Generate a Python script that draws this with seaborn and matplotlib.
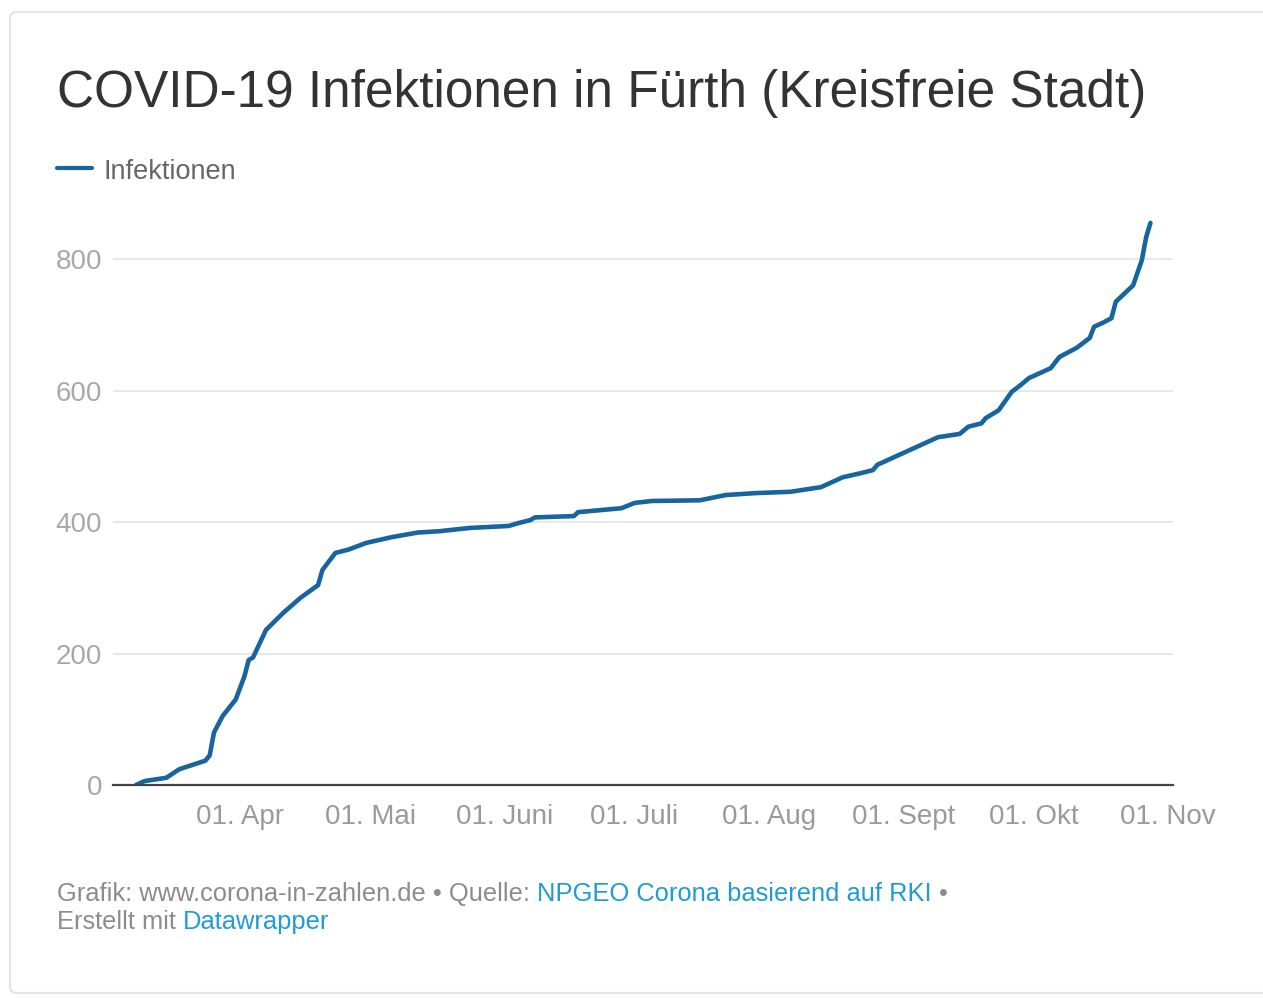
import matplotlib
matplotlib.use('Agg')

import pandas as pd
import numpy as np
import matplotlib.pyplot as plt
import seaborn as sns
from matplotlib.patches import FancyBboxPatch

# cumulative infections
dates = ["2020-03-08", "2020-03-10", "2020-03-15", "2020-03-18", "2020-03-24",
         "2020-03-25", "2020-03-26", "2020-03-28", "2020-03-31", "2020-04-02",
         "2020-04-03", "2020-04-04", "2020-04-07", "2020-04-11", "2020-04-15",
         "2020-04-19", "2020-04-20", "2020-04-23", "2020-04-26", "2020-04-30",
         "2020-05-06", "2020-05-12", "2020-05-17", "2020-05-24", "2020-06-02",
         "2020-06-04", "2020-06-07", "2020-06-08", "2020-06-17", "2020-06-18",
         "2020-06-28", "2020-07-01", "2020-07-05", "2020-07-16", "2020-07-22",
         "2020-07-29", "2020-08-06", "2020-08-13", "2020-08-18", "2020-08-22",
         "2020-08-25", "2020-08-26", "2020-08-31", "2020-09-04", "2020-09-09",
         "2020-09-14", "2020-09-16", "2020-09-19", "2020-09-20", "2020-09-23",
         "2020-09-26", "2020-09-28", "2020-09-30", "2020-10-05", "2020-10-07",
         "2020-10-11", "2020-10-14", "2020-10-15", "2020-10-17", "2020-10-19",
         "2020-10-20", "2020-10-24", "2020-10-25", "2020-10-26", "2020-10-27",
         "2020-10-28"]
infektionen = [0, 6, 11, 24, 37,
               45, 80, 105, 130, 165,
               190, 194, 236, 262, 285,
               304, 327, 353, 358, 368,
               377, 384, 386, 391, 394,
               398, 403, 407, 409, 415,
               421, 429, 432, 433, 441,
               444, 446, 453, 468, 474,
               479, 487, 502, 514, 529,
               534, 545, 550, 558, 570,
               598, 608, 619, 634, 651,
               665, 680, 697, 703, 710,
               735, 760, 779, 798, 833,
               855]

tick_dates = ["2020-04-01", "2020-05-01", "2020-06-01", "2020-07-01",
              "2020-08-01", "2020-09-01", "2020-10-01", "2020-11-01"]
tick_labels = ["01. Apr", "01. Mai", "01. Juni", "01. Juli",
               "01. Aug", "01. Sept", "01. Okt", "01. Nov"]
y_ticks = [0, 200, 400, 600, 800]

title = "COVID-19 Infektionen in Fürth (Kreisfreie Stadt)"
legend_label = "Infektionen"

LINE = "#17649f"
GREY_TXT = "#8c8c8c"
BLUE_TXT = "#1f9bd7"

sns.set_style("white")
plt.rcParams['font.family'] = ['Liberation Sans', 'DejaVu Sans']

df = pd.DataFrame({"Datum": pd.to_datetime(dates), "Infektionen": infektionen})

W, H = 1263, 998
fig = plt.figure(figsize=(W / 100, H / 100), dpi=100)
fig.patch.set_facecolor("white")

# card frame (outline only)
card = FancyBboxPatch((10 / W, 1 - 993 / H), 1300 / W, 981 / H,
                      boxstyle="round,pad=0,rounding_size=0.006",
                      transform=fig.transFigure, facecolor="none",
                      edgecolor="#e4e4e4", linewidth=1.5, zorder=-1)
fig.patches.append(card)

ax = fig.add_axes([113 / W, 1 - 785 / H, (1173 - 113) / W, (785 - 213) / H])
ax.set_facecolor("none")

sns.lineplot(data=df, x="Datum", y="Infektionen", ax=ax, color=LINE,
             linewidth=3.3, solid_joinstyle="round", solid_capstyle="round",
             zorder=3)

apr1 = pd.Timestamp("2020-04-01")
ax.set_xlim(apr1 - pd.Timedelta(days=29.3), apr1 + pd.Timedelta(days=215.2))
ax.set_ylim(0, 870)

ax.set_yticks(y_ticks)
ax.set_yticklabels([str(v) for v in y_ticks])
ax.set_xticks(pd.to_datetime(tick_dates))
ax.set_xticklabels(tick_labels)
ax.tick_params(axis="y", length=0, pad=8, labelsize=20, labelcolor="#a8a8a8")
ax.tick_params(axis="x", length=0, pad=14, labelsize=20, labelcolor="#9a9a9a")
ax.set_xlabel("")
ax.set_ylabel("")

ax.grid(axis="y", color="#e6e6e6", linewidth=1.3)
ax.grid(axis="x", visible=False)
ax.set_axisbelow(True)
for side in ["top", "right", "left"]:
    ax.spines[side].set_visible(False)
ax.spines["bottom"].set_color("#444444")
ax.spines["bottom"].set_linewidth(1.6)
ax.spines["bottom"].set_zorder(4)

# title
fig.text(57 / W, 1 - 93 / H, title, fontsize=37, color="#333333",
         va="center", ha="left")

# legend
fig.add_artist(plt.Line2D([57 / W, 92 / W], [1 - 168 / H, 1 - 168 / H],
                          transform=fig.transFigure, color=LINE, linewidth=3))
fig.text(103 / W, 1 - 172 / H, legend_label, fontsize=19.5, color="#666666",
         va="center", ha="left")

# footer with coloured runs
renderer = fig.canvas.get_renderer()


def text_width(s, size):
    t = fig.text(0, 0, s, fontsize=size)
    w = t.get_window_extent(renderer=renderer).width
    t.remove()
    return w


def put_runs(x_px, y_px, runs, size):
    space = text_width("x x", size) - text_width("xx", size)
    x = x_px
    for s, c in runs:
        lead = len(s) - len(s.lstrip(" "))
        core = s.strip(" ")
        trail = len(s) - lead - len(core)
        x += lead * space
        t = fig.text(x / W, 1 - y_px / H, core, fontsize=size, color=c,
                     va="center", ha="left")
        x += t.get_window_extent(renderer=renderer).width
        x += trail * space


FOOT = 18.4
put_runs(57, 894, [("Grafik: www.corona-in-zahlen.de \u2022 Quelle: ", GREY_TXT),
                   ("NPGEO Corona basierend auf RKI", BLUE_TXT),
                   (" \u2022", GREY_TXT)], FOOT)
put_runs(57, 922, [("Erstellt mit ", GREY_TXT),
                   ("Datawrapper", BLUE_TXT)], FOOT)

fig.savefig("out.png", dpi=100, facecolor="white")
